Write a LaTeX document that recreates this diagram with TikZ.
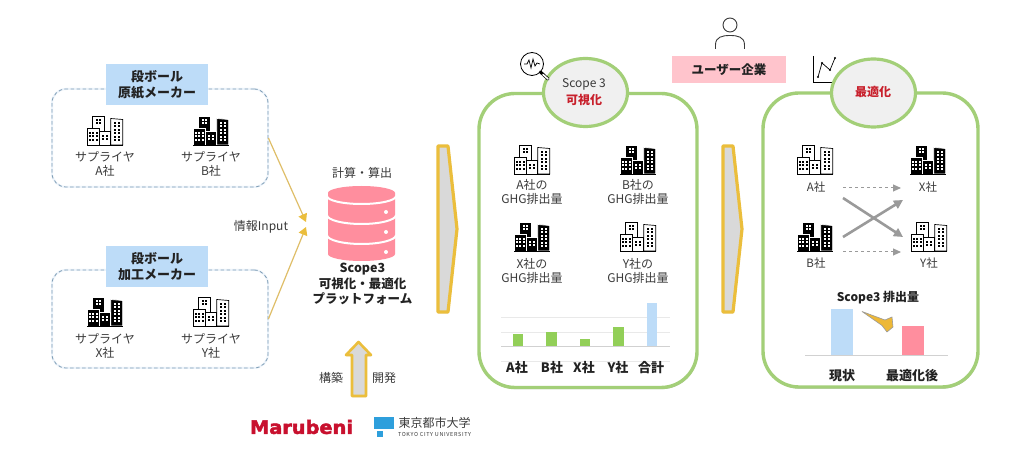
\documentclass[tikz,border=0pt]{standalone}
\usepackage{fontspec}
\usepackage{graphicx}
\setmainfont{Noto Sans CJK JP}
\newfontfamily\logofont{DejaVu Sans}
\usetikzlibrary{arrows.meta,shadows,shapes.geometric}
\definecolor{ink}{HTML}{3A3A3A}
\definecolor{inkdark}{HTML}{222222}
\definecolor{dashblue}{HTML}{7F9DB5}
\definecolor{halo}{HTML}{EDF4FB}
\definecolor{skyfill}{HTML}{BDDCF8}
\definecolor{dbpink}{HTML}{FF8E9E}
\definecolor{softpink}{HTML}{FFC4CC}
\definecolor{gold}{HTML}{EBBE3C}
\definecolor{goldline}{HTML}{DFBE68}
\definecolor{chevron}{HTML}{D9D9D9}
\definecolor{leaf}{HTML}{A3CF78}
\definecolor{barleaf}{HTML}{92CF58}
\definecolor{lens}{HTML}{F0F0F0}
\definecolor{alert}{HTML}{C8202C}
\definecolor{grid}{HTML}{E9E9E9}
\definecolor{flow}{HTML}{9A9A9A}
\definecolor{logored}{HTML}{C8102E}
\definecolor{logoblue}{HTML}{2E9FDC}
% window grid of a tower: x, y, columns, rows, colour
\newcommand{\wingrid}[5]{%
  \foreach \ci in {1,...,#3}{\foreach \ri in {1,...,#4}{%
    \fill[#5] ({#1+(\ci-1)*3.5},{#2+(\ri-1)*3.5}) rectangle ++(2,2);}}}
% skyline of four blocks: body colour, line colour
\newcommand{\skyline}[2]{%
  \begin{scope}[line width=.7pt,draw=#2,fill=#1,line join=miter]
    \filldraw (-12.7,-29) rectangle (-0.7,-14);
    \filldraw (5.7,-26.5) -- (17.7,-25.5) -- (17.7,0) -- (5.7,0) -- cycle;
    \filldraw (-17.7,-17) rectangle (-5.7,0);
    \filldraw (-5.7,-14) rectangle (5.7,0);
  \end{scope}
  \wingrid{-9.5}{-26}{2}{2}{#2}
  \wingrid{-16.2}{-13}{3}{3}{#2}
  \wingrid{-2.75}{-10}{2}{2}{#2}
  \wingrid{9}{-23}{2}{6}{#2}
  \draw[#2,line width=.7pt] (-18,0) -- (18,0);}
\tikzset{
  x=1pt,y=-1pt,
  cityopen/.pic={\skyline{white}{black}},
  citysolid/.pic={\skyline{black}{white}\draw[black,line width=.8pt] (-18,.2) -- (18,.2);},
  txt/.style={font=\fontsize{12}{14}\selectfont,text=ink,inner sep=0pt,align=center},
  headtxt/.style={font=\fontsize{13}{15}\selectfont\bfseries,text=inkdark,inner sep=0pt,align=center},
  groupbox/.style={draw=dashblue,dash pattern=on 3.5pt off 2.5pt,line width=.8pt,rounded corners=14pt,minimum width=216pt,minimum height=98pt,inner sep=0pt,
    preaction={draw=halo,solid,line width=2pt}},
  tagbox/.style={fill=skyfill,minimum width=102pt,minimum height=41pt,inner sep=0pt,align=center,font=\fontsize{13}{15.5}\selectfont\bfseries,text=inkdark},
  inflow/.style={draw=goldline,line width=1.2pt,-{Triangle[length=8pt,width=9pt,fill=gold,color=gold]}},
  bigarrow/.style={draw=gold,fill=chevron,line width=3.2pt,line join=round},
  panel/.style={draw=leaf,fill=white,line width=3.4pt,rounded corners=36pt,inner sep=0pt,
    drop shadow={shadow xshift=.6pt,shadow yshift=-1.6pt,opacity=.3,fill=black}},
  badge/.style={ellipse,draw=leaf,fill=lens,line width=3.2pt,inner sep=0pt,minimum width=84pt,minimum height=68pt,align=center},
  gridline/.style={draw=grid,line width=.7pt},
  axisline/.style={draw=black!18,line width=.9pt},
  softflow/.style={draw=flow,dashed,line width=1pt,-{Triangle[length=8pt,width=7pt,fill=flow]}},
  hardflow/.style={draw=flow,line width=2.6pt,-{Triangle[length=9pt,width=9pt,fill=flow]}},
  chartlab/.style={font=\fontsize{13}{15}\selectfont\bfseries,text=inkdark,inner sep=0pt},
}
\begin{document}
\begin{tikzpicture}
\useasboundingbox (0,0) rectangle (1029,462);
\fill[white] (0,0) rectangle (1029,462);

% Supplier groups
\node[groupbox] (groupPaper) at (160,138) {};
\node[tagbox] (tagPaper) at (157,85) {段ボール\\原紙メーカー};
\pic at (105,145) {cityopen};
\pic at (211,145) {citysolid};
\node[txt] (supA) at (105,164) {サプライヤ\\A社};
\node[txt] (supB) at (211,164) {サプライヤ\\B社};

\node[groupbox] (groupConv) at (160,319) {};
\node[tagbox] (tagConv) at (157,266.5) {段ボール\\加工メーカー};
\pic at (105,326) {citysolid};
\pic at (211,326) {cityopen};
\node[txt] (supX) at (105,345.5) {サプライヤ\\X社};
\node[txt] (supY) at (211,345.5) {サプライヤ\\Y社};

% Input arrows into the database
\coordinate (inTop) at (306,222);
\coordinate (inLow) at (306,227);
\draw[inflow] (groupPaper.east) -- (inTop);
\draw[inflow] (groupConv.east) -- (inLow);
\node[txt] (inputLabel) at (261,227) {情報Input};

% Database cylinder
\node[txt] (calcLabel) at (362,173) {計算・算出};
\fill[dbpink] (328,193) arc[start angle=180,end angle=360,x radius=33.5,y radius=7] arc[start angle=0,end angle=180,x radius=33.5,y radius=7] -- cycle;
\fill[dbpink] (328,193) -- (328,254) arc[start angle=180,end angle=0,x radius=33.5,y radius=7] -- (395,193) -- cycle;
\draw[white,line width=2pt] (327,196) arc[start angle=180,end angle=0,x radius=34.5,y radius=8];
\draw[white,line width=2pt] (327,215) arc[start angle=180,end angle=0,x radius=34.5,y radius=9];
\draw[white,line width=2pt] (327,235) arc[start angle=180,end angle=0,x radius=34.5,y radius=9];
\fill[white] (386,212) circle[radius=2] (386,232) circle[radius=2] (386,252) circle[radius=2];
\node[headtxt,font=\fontsize{12.5}{15.8}\selectfont\bfseries] (platform) at (362.5,284) {Scope3\\可視化・最適化\\プラットフォーム};

% Build arrow and developers
\draw[bigarrow,line width=2.6pt,drop shadow={shadow xshift=.5pt,shadow yshift=-1.2pt,opacity=.25,fill=black}]
  (358.5,342) -- (371,355) -- (366,355) -- (366,396) -- (352,396) -- (352,355) -- (346,355) -- cycle;
\node[txt] (buildA) at (331,378) {構築};
\node[txt] (buildB) at (384,378) {開発};
\node[inner sep=0pt,text=logored] (marubeni) at (301.5,427) {\resizebox{103pt}{14pt}{\logofont\addfontfeature{FakeBold=2.5}\bfseries Marubeni}};
\fill[logoblue] (374,417) rectangle (394,429);
\fill[logoblue] (377,431) rectangle (383,437);
\node[inner sep=0pt,text=ink,font=\fontsize{12}{14}\selectfont] (tcuJa) at (434.5,423) {東京都市大学};
\node[inner sep=0pt,text=ink] (tcuEn) at (434.5,435) {\resizebox{73pt}{!}{\fontsize{5}{6}\selectfont\addfontfeature{LetterSpace=12}TOKYO CITY UNIVERSITY}};

% Stage chevrons
\draw[bigarrow,drop shadow={shadow xshift=.5pt,shadow yshift=-1.2pt,opacity=.25,fill=black}]
  (438,146) -- (448,146) -- (457,229) -- (448,312) -- (438,312) -- cycle;
\draw[bigarrow,drop shadow={shadow xshift=.5pt,shadow yshift=-1.2pt,opacity=.25,fill=black}]
  (723,146) -- (733,146) -- (742,229) -- (733,312) -- (723,312) -- cycle;

% Visualisation panel
\node[panel,minimum width=218pt,minimum height=294pt] (panelVis) at (588,240.5) {};
\node[badge] (badgeVis) at (585.5,92.5) {};
\node[inner sep=0pt,font=\fontsize{12}{14}\selectfont,text=ink] (scopeLabel) at (584,84) {Scope 3};
\node[inner sep=0pt,font=\fontsize{12}{14}\selectfont\bfseries,text=alert] (visLabel) at (584,100) {可視化};
\draw[black,line width=.8pt,fill=white] (532,64) circle[radius=11.5];
\draw[black,line width=.7pt] (524,64) -- (527,64) -- (529,60) -- (531,68) -- (533,59) -- (535,66) -- (537,63) -- (540,64);
\draw[black,line width=3pt,line cap=round] (540.5,72) -- (548,79);
\draw[white,line width=1.6pt,line cap=round] (543,74.5) -- (548,79);

\pic at (532,174) {cityopen};
\pic at (638,174) {citysolid};
\pic at (532,251) {citysolid};
\pic at (638,251) {cityopen};
\node[txt] (emA) at (532,191.5) {A社の\\GHG排出量};
\node[txt] (emB) at (638,191.5) {B社の\\GHG排出量};
\node[txt] (emX) at (532,270.5) {X社の\\GHG排出量};
\node[txt] (emY) at (638,270.5) {Y社の\\GHG排出量};

% Emissions per company
\draw[gridline] (501,317) -- (670,317);
\draw[gridline] (501,332) -- (670,332);
\draw[gridline] (501,361) -- (670,361);
\fill[barleaf] (513,334) rectangle (523,346);
\fill[barleaf] (546,332) rectangle (557,346);
\fill[barleaf] (580,339) rectangle (590,346);
\fill[barleaf] (613,327) rectangle (624,346);
\fill[skyfill] (647,303) rectangle (657,346);
\draw[axisline] (501,346.5) -- (670,346.5);
\node[chartlab] (labA) at (517,368) {A社};
\node[chartlab] (labB) at (552,368) {B社};
\node[chartlab] (labX) at (584,368) {X社};
\node[chartlab] (labY) at (618,368) {Y社};
\node[chartlab] (labSum) at (651,368) {合計};

% User company
\draw[ink,line width=.9pt] (730,25) circle[radius=7];
\draw[ink,line width=.9pt] (715.5,49) -- (715.5,45) .. controls (715.5,37) and (722,35.5) .. (730,35.5) .. controls (738,35.5) and (744.5,37) .. (744.5,45) -- (744.5,49);
\node[fill=softpink,minimum width=114pt,minimum height=27pt,inner sep=0pt,font=\fontsize{12.5}{15}\selectfont\bfseries,text=inkdark] (userCo) at (729,69.5) {ユーザー企業};

% Optimisation panel
\node[panel,minimum width=215pt,minimum height=294pt] (panelOpt) at (870.5,240) {};
\draw[black,line width=.7pt] (813,56) -- (813,82) -- (838,82);
\draw[black,line width=.7pt] (818,77) -- (822,63) -- (830,70) -- (835,58);
\fill[black] (818,77) circle[radius=1.2] (822,63) circle[radius=1.2] (830,70) circle[radius=1.2] (835,58) circle[radius=1.2];
\node[badge] (badgeOpt) at (873.5,93) {};
\node[inner sep=0pt,font=\fontsize{12}{14}\selectfont\bfseries,text=alert] (optLabel) at (873,92) {最適化};

\pic at (815,174) {cityopen};
\pic at (928,174) {citysolid};
\pic at (815,251) {citysolid};
\pic at (929,251) {cityopen};
\node[inner sep=0pt,font=\fontsize{11.5}{14}\selectfont,text=ink] (coA) at (816,187) {A社};
\node[inner sep=0pt,font=\fontsize{11.5}{14}\selectfont,text=ink] (coX) at (928,187) {X社};
\node[inner sep=0pt,font=\fontsize{11.5}{14}\selectfont,text=ink] (coB) at (816,263) {B社};
\node[inner sep=0pt,font=\fontsize{11.5}{14}\selectfont,text=ink] (coY) at (929,263) {Y社};

% Flows before and after optimisation
\coordinate (fromA) at (843,188);
\coordinate (toX) at (901,188);
\coordinate (fromB) at (843,252);
\coordinate (toY) at (901,252);
\coordinate (crossA) at (843,198);
\coordinate (crossAend) at (903,237);
\coordinate (crossB) at (843,237);
\coordinate (crossBend) at (903,200);
\draw[softflow] (fromA) -- (toX);
\draw[softflow] (fromB) -- (toY);
\draw[hardflow] (crossA) -- (crossAend);
\draw[hardflow] (crossB) -- (crossBend);

% Total emissions, current and optimised
\node[inner sep=0pt,font=\fontsize{12}{14}\selectfont\bfseries,text=inkdark] (totalLabel) at (878,298) {Scope3 排出量};
\fill[skyfill] (831,309) rectangle (853,355);
\fill[dbpink] (902,326) rectangle (924,355);
\draw[axisline] (805,355.5) -- (948,355.5);
\draw[fill=gold!90!orange,draw=flow,line width=.6pt,line join=round]
  (862,311.5) -- (885,320) -- (892,317) -- (893,327) -- (887,332) -- (882,325.5) -- cycle;
\node[chartlab] (labNow) at (842,376) {現状};
\node[chartlab] (labAfter) at (912,376) {最適化後};
\end{tikzpicture}
\end{document}
